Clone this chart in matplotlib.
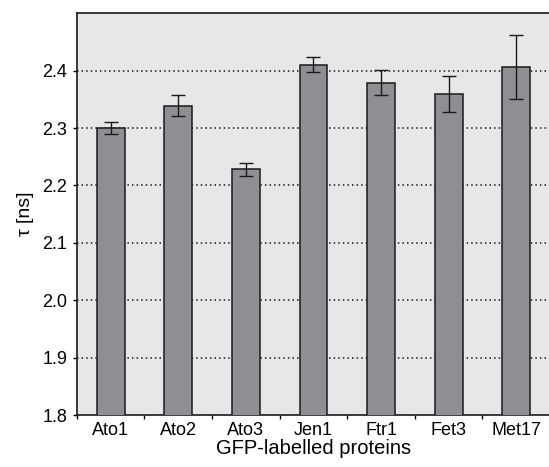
import matplotlib
matplotlib.use("Agg")
import matplotlib.pyplot as plt
import numpy as np

plt.rcParams['font.family'] = ['Liberation Sans', 'DejaVu Sans']

categories = ["Ato1", "Ato2", "Ato3", "Jen1", "Ftr1", "Fet3", "Met17"]
tau = [2.300, 2.339, 2.228, 2.410, 2.379, 2.359, 2.407]
err = [0.011, 0.018, 0.011, 0.013, 0.022, 0.031, 0.056]
yticks = [1.8, 1.9, 2.0, 2.1, 2.2, 2.3, 2.4]

fig = plt.figure(figsize=(5.49, 4.67), dpi=100)
ax = fig.add_axes([0.140, 0.1113, 0.862, 0.8602])
ax.set_facecolor('#e6e7e9')

x = np.arange(len(categories))
ax.bar(x, tau, width=0.41, color='#8e8f92', edgecolor='#1a1a1a', linewidth=1.1, zorder=3)
ax.errorbar(x, tau, yerr=err, fmt='none', ecolor='#1a1a1a', elinewidth=1.0, capsize=5, capthick=1.0, zorder=4)

ax.set_ylim(1.8, 2.5)
ax.set_xlim(-0.5, 6.5)
ax.set_yticks(yticks)
ax.set_yticklabels([f"{v:.1f}" for v in yticks], fontsize=13)
for v in yticks[1:]:
    ax.axhline(v, color='#1a1a1a', linestyle=(0, (1, 2)), linewidth=1.1, zorder=1)

ax.set_xticks(np.arange(len(categories) + 1) - 0.5)
ax.set_xticklabels([])
ax.set_xticks(x, minor=True)
ax.set_xticklabels(categories, minor=True, fontsize=13)
ax.tick_params(axis='x', which='major', length=3, direction='out', width=1)
ax.tick_params(axis='x', which='minor', length=0, pad=5)
ax.tick_params(axis='y', length=3, direction='out', width=1, pad=4)

ax.spines['right'].set_visible(False)
for s in ['left', 'top', 'bottom']:
    ax.spines[s].set_linewidth(1.2)
    ax.spines[s].set_color('#1a1a1a')

ax.set_ylabel("τ [ns]", fontsize=14, labelpad=6)
ax.set_xlabel("GFP-labelled proteins", fontsize=14.5, labelpad=0)

fig.savefig("out.png", dpi=100)
